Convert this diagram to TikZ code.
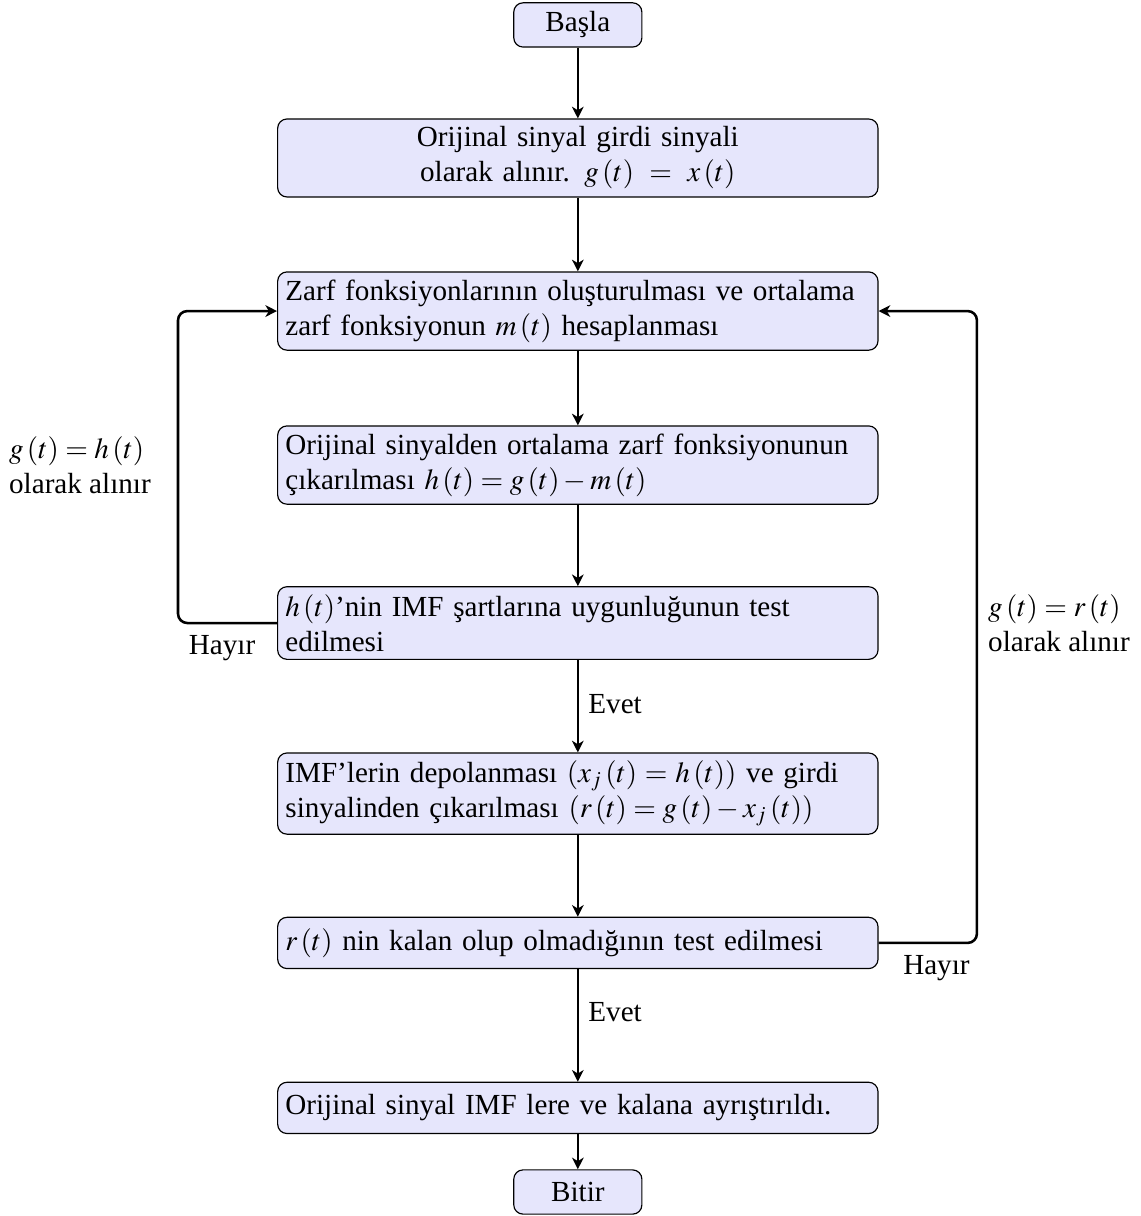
\documentclass[tikz,border=0pt]{standalone}
\usepackage{mathptmx}
\usepackage{fontspec}
\setmainfont{Liberation Serif}
\usepackage{amsmath}
\usetikzlibrary{arrows.meta}
\definecolor{lavender}{RGB}{230,230,252}

\begin{document}
\begin{tikzpicture}[line join=round, font=\fontsize{12.5}{15}\selectfont,
        startstop/.style={shape=rectangle, rounded corners=4pt, fill=lavender, draw=black, line width=0.5pt, minimum width=55pt, minimum height=19pt, align=center},
        process/.style={shape=rectangle, rounded corners=4pt, fill=lavender, draw=black, line width=0.5pt, text width=251pt, minimum height=22pt, align=left},
        flow/.style={-{Stealth[length=5pt, width=5pt, inset=1.5pt]}, line width=0.8pt},
        loopback/.style={-{Stealth[length=5pt, width=5pt, inset=1.5pt]}, line width=1.1pt, rounded corners=4pt}]
        \useasboundingbox (0pt, 0pt) rectangle (489.7pt, -521.9pt);
        % Boxes
        \node[startstop] (basla) at (248pt, -10.7pt) {Başla};
        \node[process, align=center] (orijinal) at (248pt, -67.8pt) {Orijinal sinyal girdi sinyali\\olarak alınır. $g\left(t\right)\,=\,x\left(t\right)$};
        \node[process] (zarf) at (248pt, -133.5pt) {Zarf fonksiyonlarının oluşturulması ve ortalama zarf fonksiyonun $m\left(t\right)$ hesaplanması};
        \node[process] (cikar) at (248pt, -199.6pt) {Orijinal sinyalden ortalama zarf fonksiyonunun çıkarılması $h\left(t\right)=g\left(t\right)-m\left(t\right)$};
        \node[process] (imftest) at (248pt, -267.4pt) {$h\left(t\right)$'nin IMF şartlarına uygunluğunun test edilmesi};
        \node[process] (depola) at (248pt, -340.6pt) {IMF'lerin depolanması $(x_j\left(t\right)=h\left(t\right))$ ve girdi sinyalinden çıkarılması $(r\left(t\right)=g\left(t\right)-x_j\left(t\right))$};
        \node[process] (kalan) at (248pt, -404.7pt) {$r\left(t\right)$ nin kalan olup olmadığının test edilmesi};
        \node[process] (sonuc) at (248pt, -475.5pt) {Orijinal sinyal IMF lere ve kalana ayrıştırıldı.};
        \node[startstop] (bitir) at (248pt, -511.6pt) {Bitir};
        % Arrows
        \foreach \a/\b in {basla/orijinal, orijinal/zarf, zarf/cikar, cikar/imftest, imftest/depola, depola/kalan, kalan/sonuc, sonuc/bitir} {
          \draw[flow] (\a.south) -- (\b.north);
        }
        \coordinate (solhat) at (76.4pt, 0pt);
        \coordinate (saghat) at (419.3pt, 0pt);
        \draw[loopback] (imftest.west) -- (imftest.west -| solhat) -- (zarf.west -| solhat) -- (zarf.west);
        \draw[loopback] (kalan.east) -- (kalan.east -| saghat) -- (zarf.east -| saghat) -- (zarf.east);
        % Labels
        \node[align=left] (solyazi) at (34.3pt, -199.6pt) {$g\left(t\right)=h\left(t\right)$\\olarak alınır};
        \node[align=left] (sagyazi) at (454.5pt, -267.4pt) {$g\left(t\right)=r\left(t\right)$\\olarak alınır};
        \node (hayir1) at (95.3pt, -278.1pt) {Hayır};
        \node (hayir2) at (401.9pt, -415.5pt) {Hayır};
        \node (evet1) at (264pt, -302.1pt) {Evet};
        \node (evet2) at (264pt, -434.3pt) {Evet};
\end{tikzpicture}
\end{document}
